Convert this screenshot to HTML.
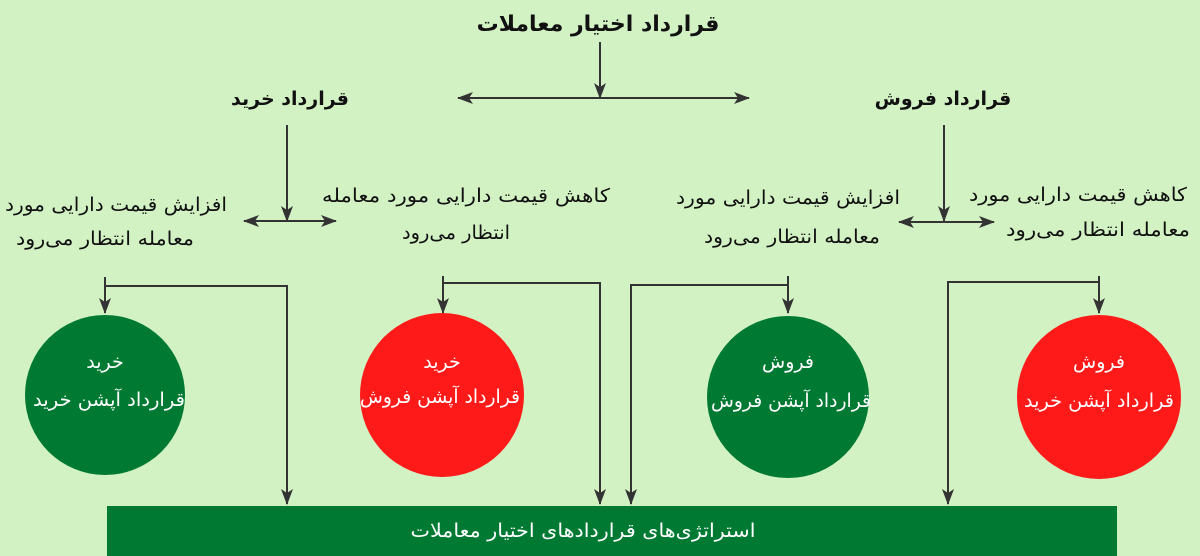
<!DOCTYPE html>
<html><head><meta charset="utf-8"><style>
html,body{margin:0;padding:0;background:#d2f2c4;}
svg{display:block}
text{font-family:"DejaVu Sans","Liberation Sans",sans-serif;}
</style></head><body>
<svg width="1200" height="556" viewBox="0 0 1200 556" xmlns="http://www.w3.org/2000/svg">
<defs>
<marker id="a" markerWidth="16" markerHeight="12" refX="15" refY="6" orient="auto" markerUnits="userSpaceOnUse" viewBox="0 0 16 12">
<path d="M0,0 L16,6 L0,12 L4,6 Z" fill="#333"/></marker>
</defs>
<rect width="1200" height="556" fill="#d2f2c4"/>
<g stroke="#333" stroke-width="2" fill="none">
<line x1="600" y1="42" x2="600" y2="98" marker-end="url(#a)"/>
<line x1="600" y1="98" x2="458" y2="98" marker-end="url(#a)"/>
<line x1="600" y1="98" x2="749" y2="98" marker-end="url(#a)"/>
<line x1="287" y1="125" x2="287" y2="221" marker-end="url(#a)"/>
<line x1="287" y1="221" x2="244" y2="221" marker-end="url(#a)"/>
<line x1="287" y1="221" x2="336" y2="221" marker-end="url(#a)"/>
<line x1="944" y1="125" x2="944" y2="221" marker-end="url(#a)"/>
<line x1="944" y1="222" x2="899" y2="222" marker-end="url(#a)"/>
<line x1="944" y1="222" x2="994" y2="222" marker-end="url(#a)"/>
<line x1="105" y1="277" x2="105" y2="313" marker-end="url(#a)"/>
<polyline points="105,286 287,286 287,504" marker-end="url(#a)"/>
<line x1="443" y1="276" x2="443" y2="313" marker-end="url(#a)"/>
<polyline points="443,283 600,283 600,504" marker-end="url(#a)"/>
<line x1="788" y1="276" x2="788" y2="313" marker-end="url(#a)"/>
<polyline points="788,285 631,285 631,504" marker-end="url(#a)"/>
<line x1="1099" y1="276" x2="1099" y2="313" marker-end="url(#a)"/>
<polyline points="1099,282 948,282 948,504" marker-end="url(#a)"/>
</g>
<circle cx="105" cy="395" r="80" fill="#007a33"/>
<circle cx="442" cy="395" r="82" fill="#ff1a1a"/>
<circle cx="788" cy="397" r="81" fill="#007a33"/>
<circle cx="1099" cy="397" r="82" fill="#ff1a1a"/>
<rect x="107" y="506" width="1010" height="50" fill="#007a33"/>
<g text-anchor="middle" fill="#111">
<text x="598" y="31" font-size="22" font-weight="bold" direction="rtl">قرارداد اختیار معاملات</text>
<text x="290" y="105" font-size="19" font-weight="bold" direction="rtl">قرارداد خرید</text>
<text x="943" y="105" font-size="19" font-weight="bold" direction="rtl">قرارداد فروش</text>
<g font-size="19" direction="rtl">
<text x="116" y="211" textLength="222" lengthAdjust="spacingAndGlyphs">افزایش قیمت دارایی مورد</text>
<text x="105" y="245" textLength="178" lengthAdjust="spacingAndGlyphs">معامله انتظار می‌رود</text>
<text x="466" y="202" textLength="288" lengthAdjust="spacingAndGlyphs">کاهش قیمت دارایی مورد معامله</text>
<text x="456" y="239" textLength="108" lengthAdjust="spacingAndGlyphs">انتظار می‌رود</text>
<text x="788" y="204" textLength="224" lengthAdjust="spacingAndGlyphs">افزایش قیمت دارایی مورد</text>
<text x="792" y="243" textLength="176" lengthAdjust="spacingAndGlyphs">معامله انتظار می‌رود</text>
<text x="1078" y="201" textLength="218" lengthAdjust="spacingAndGlyphs">کاهش قیمت دارایی مورد</text>
<text x="1098" y="236" textLength="184" lengthAdjust="spacingAndGlyphs">معامله انتظار می‌رود</text>
</g>
</g>
<g text-anchor="middle" fill="#fff" font-size="19" direction="rtl">
<text x="105" y="368">خرید</text><text x="109" y="406" textLength="152" lengthAdjust="spacingAndGlyphs">قرارداد آپشن خرید</text>
<text x="442" y="368">خرید</text><text x="440" y="403" textLength="160" lengthAdjust="spacingAndGlyphs">قرارداد آپشن فروش</text>
<text x="788" y="368">فروش</text><text x="791" y="407" textLength="160" lengthAdjust="spacingAndGlyphs">قرارداد آپشن فروش</text>
<text x="1099" y="368">فروش</text><text x="1099" y="407" textLength="150" lengthAdjust="spacingAndGlyphs">قرارداد آپشن خرید</text>
<text x="583" y="537" textLength="345" lengthAdjust="spacingAndGlyphs">استراتژی‌های قراردادهای اختیار معاملات</text>
</g>
</svg>
</body></html>
